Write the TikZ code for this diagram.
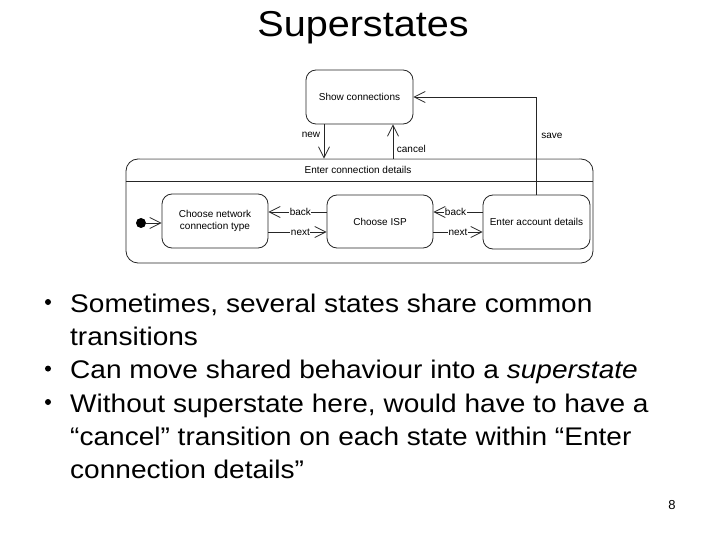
\documentclass[tikz,border=0pt]{standalone}
\usepackage{graphicx}
\usepackage{fontspec}
\setmainfont{Liberation Sans}
\usetikzlibrary{arrows.meta}
\newcommand{\hstr}[1]{\scalebox{1.1}[1]{#1}}
\begin{document}
\begin{tikzpicture}[x=1pt,y=-1pt,
  state/.style={draw=black!85, line width=0.8pt, rounded corners=10pt, inner sep=0pt,
    font=\fontsize{10}{11.5}\selectfont, align=center},
  trans/.style={draw=black!85, line width=0.8pt,
    -{Straight Barb[length=11pt,width=11pt,line width=0.8pt]}},
  lbl/.style={font=\fontsize{10}{12}\selectfont, inner sep=0.5pt},
  onl/.style={lbl, fill=white},
  txt/.style={anchor=base west, inner sep=0pt, font=\fontsize{25.5}{30}\selectfont},
  bul/.style={circle, fill=black, inner sep=0pt, minimum size=6pt}
]
\useasboundingbox (0,0) rectangle (720,540);

% title
\node[anchor=base, inner sep=0pt, font=\fontsize{36}{40}\selectfont] (title) at (363,37) {\hstr{Superstates}};

% diagram
\node[state, minimum width=107pt, minimum height=54pt] (show) at (359.5,97) {Show connections};
\node[state, rounded corners=12pt, minimum width=467pt, minimum height=104pt] (super) at (359.5,211) {};
\draw[line width=1pt, black!22] (140,159) -- (579,159);
\coordinate (sepy) at (0,181);
\draw[draw=black!85, line width=0.8pt] (super.west |- sepy) -- (super.east |- sepy);
\node[lbl] (suptitle) at (358,170) {Enter connection details};

\node[state, minimum width=106pt, minimum height=54pt] (net) at (215,221) {Choose network\\connection type};
\node[state, minimum width=106pt, minimum height=53pt] (isp) at (380,221.5) {Choose ISP};
\node[state, minimum width=107pt, minimum height=54pt] (acct) at (536.5,222) {Enter account details};
\node[circle, fill=black, inner sep=0pt, minimum size=10pt] (init) at (141,223) {};

\coordinate (yb) at (0,212);
\coordinate (yn) at (0,232);
\coordinate (xnew) at (324,0);
\coordinate (xcan) at (393,0);

\draw[trans] (init) -- (net.west |- init);
\draw[trans] (isp.west |- yb) -- node[onl, pos=0.45] (b1l) {back} (net.east |- yb);
\draw[trans] (net.east |- yn) -- node[onl, pos=0.55] (n1l) {next} (isp.west |- yn);
\draw[trans] (acct.west |- yb) -- node[onl, pos=0.55] (b2l) {back} (isp.east |- yb);
\draw[trans] (isp.east |- yn) -- node[onl, pos=0.5] (n2l) {next} (acct.west |- yn);

\draw[trans] (show.south -| xnew) -- node[lbl, pos=0.3, left=3pt] (newl) {new} (super.north -| xnew);
\draw[trans] (super.north -| xcan) -- node[lbl, pos=0.29, right=3pt] (canl) {cancel} (show.south -| xcan);
\draw[trans] (acct.north) |- node[lbl, pos=0.3, right=4pt] (savel) {save} (show.east);

% bullets
\node[bul] (d1) at (48,302) {};
\node[bul] (d2) at (48,368.6) {};
\node[bul] (d3) at (48,402) {};
\node[txt] (t1) at (70,312) {\hstr{Sometimes, several states share common}};
\node[txt] (t2) at (70,345.3) {\hstr{transitions}};
\node[txt] (t3) at (70,378.6) {\hstr{Can move shared behaviour into a \textit{superstate}}};
\node[txt] (t4) at (70,412) {\hstr{Without superstate here, would have to have a}};
\node[txt] (t5) at (70,445.3) {\hstr{“cancel” transition on each state within “Enter}};
\node[txt] (t6) at (70,478.6) {\hstr{connection details”}};

\node[font=\fontsize{13}{15}\selectfont, inner sep=0pt] (pg) at (672,505) {8};
\end{tikzpicture}
\end{document}
